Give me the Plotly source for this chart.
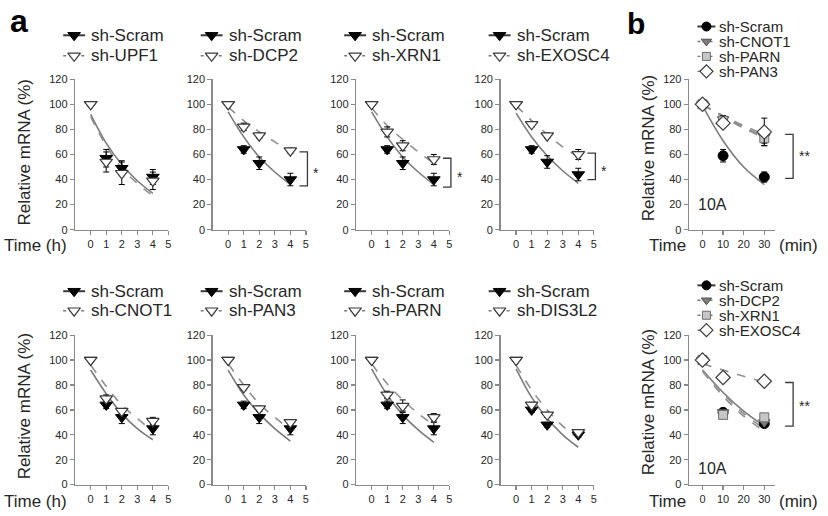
import plotly.graph_objects as go

W, H = 828, 516
FONT = "Liberation Sans, Arial, sans-serif"
TXT = "#262626"
AX = "#8a8a8a"
FIT_SOLID = "#7c7c7c"
FIT_DASH = "#909090"
DARK = "#3a3a3a"

# ---------------- shared axis values ----------------
hours = [0, 1, 2, 4]
fit_hours = [0, 1, 2, 3, 4]
minutes = [0, 10, 30]
fit_minutes = [0, 10, 20, 30]
hour_ticks = [0, 1, 2, 3, 4, 5]
minute_ticks = [0, 10, 20, 30]
pct_ticks = [0, 20, 40, 60, 80, 100, 120]

# ---------------- panel a, upper row ----------------
upf1_scram = [100, 57, 49, 42]
upf1_scram_err = [0, 7, 6, 6]
upf1_kd = [100, 54, 45, 39]
upf1_kd_err = [0, 8, 9, 7]
upf1_scram_fit = [92, 69, 52, 39, 29]
upf1_kd_fit = [90, 67, 49, 37, 27]

dcp2_scram = [100, 64, 53, 40]
dcp2_scram_err = [0, 3, 5, 5]
dcp2_kd = [100, 82, 75, 63]
dcp2_kd_err = [0, 3, 2, 2]
dcp2_scram_fit = [94, 74, 58, 46, 36]
dcp2_kd_fit = [98, 87, 78, 70, 62]

xrn1_scram = [100, 64, 53, 40]
xrn1_scram_err = [0, 3, 5, 5]
xrn1_kd = [100, 78, 67, 56]
xrn1_kd_err = [0, 4, 4, 4]
xrn1_scram_fit = [94, 74, 58, 46, 36]
xrn1_kd_fit = [97, 83, 72, 62, 53]

exosc4_scram = [100, 64, 54, 44]
exosc4_scram_err = [0, 3, 5, 5]
exosc4_kd = [100, 84, 75, 60]
exosc4_kd_err = [0, 2, 2, 4]
exosc4_scram_fit = [93, 74, 59, 47, 37]
exosc4_kd_fit = [99, 87, 76, 66, 58]

# ---------------- panel a, lower row ----------------
cnot1_scram = [100, 64, 54, 45]
cnot1_scram_err = [0, 3, 5, 5]
cnot1_kd = [100, 69, 59, 51]
cnot1_kd_err = [0, 3, 2, 3]
cnot1_scram_fit = [92, 73, 57, 45, 36]
cnot1_kd_fit = [96, 79, 64, 53, 43]

pan3_scram = [100, 64, 54, 45]
pan3_scram_err = [0, 3, 5, 5]
pan3_kd = [100, 78, 61, 50]
pan3_kd_err = [0, 2, 2, 2]
pan3_scram_fit = [92, 72, 57, 45, 35]
pan3_kd_fit = [97, 80, 65, 54, 44]

parn_scram = [100, 64, 54, 45]
parn_scram_err = [0, 3, 5, 5]
parn_kd = [100, 72, 63, 54]
parn_kd_err = [0, 3, 5, 3]
parn_scram_fit = [93, 72, 56, 44, 34]
parn_kd_fit = [97, 81, 68, 57, 48]

dis3l2_scram = [100, 60, 48, 40]
dis3l2_scram_err = [0, 2, 2, 2]
dis3l2_kd = [100, 64, 56, 42]
dis3l2_kd_err = [0, 2, 2, 2]
dis3l2_scram_fit = [93, 70, 53, 40, 30]
dis3l2_kd_fit = [96, 76, 60, 47, 37]

# ---------------- panel b, upper ----------------
b1_scram = [100, 59, 42]
b1_scram_err = [0, 5, 4]
b1_cnot1 = [100, 88, 74]
b1_cnot1_err = [0, 3, 5]
b1_parn = [100, 87, 73]
b1_parn_err = [0, 3, 6]
b1_pan3 = [100, 85, 78]
b1_pan3_err = [0, 3, 11]
b1_scram_fit = [99, 71, 50, 36]
b1_cnot1_fit = [100, 90, 82, 74]
b1_parn_fit = [100, 90, 81, 73]
b1_pan3_fit = [100, 91, 83, 76]

# ---------------- panel b, lower ----------------
b2_scram = [100, 58, 49]
b2_scram_err = [0, 2, 2]
b2_dcp2 = [100, 58, 50]
b2_dcp2_err = [0, 2, 2]
b2_xrn1 = [100, 56, 54]
b2_xrn1_err = [0, 2, 3]
b2_exosc4 = [100, 86, 83]
b2_exosc4_err = [0, 2, 2]
b2_scram_fit = [92, 74, 59, 47]
b2_dcp2_fit = [91, 71, 55, 43]
b2_xrn1_fit = [92, 73, 57, 45]
b2_exosc4_fit = [97, 92, 87, 82]

# significance brackets: (top, bottom, label, label height)
sig_dcp2 = (62, 35, "*", 48)
sig_xrn1 = (57, 34, "*", 45)
sig_exosc4 = (61, 40, "*", 50)
sig_b1 = (76, 41, "**", 62)
sig_b2 = (82, 47, "**", 66)

# ---------------- styles ----------------
MK = {
    "scram_tri": dict(symbol="triangle-down", size=11, color="black", line=dict(color="black", width=1)),
    "kd_tri": dict(symbol="triangle-down", size=11, color="white", line=dict(color=DARK, width=1.2)),
    "scram_circ": dict(symbol="circle", size=10, color="black", line=dict(color="black", width=1)),
    "grey_tri": dict(symbol="triangle-down", size=10, color="#7d7d7d", line=dict(color="#4e4e4e", width=1)),
    "grey_sq": dict(symbol="square", size=9, color="#c6c6c6", line=dict(color="#6c6c6c", width=1)),
    "white_dia": dict(symbol="diamond", size=11, color="white", line=dict(color=DARK, width=1.2)),
}

# ---------------- layout geometry (pixels) ----------------
A_T0 = [91, 229, 373, 518]
A_UNIT = 15.6
ROWS = [(75, 229), (337, 490)]
B_X = (691.6, 777.4)
B_RANGE = [-6.5, 35]


def a_geom(col, row):
    t0 = A_T0[col]
    return dict(x0=t0 - A_UNIT, x1=t0 + 5 * A_UNIT, xr=[-1, 5], y0=ROWS[row][0], y1=ROWS[row][1])


def b_geom(row):
    return dict(x0=B_X[0], x1=B_X[1], xr=B_RANGE, y0=ROWS[row][0], y1=ROWS[row][1])


panels = [
    dict(g=a_geom(0, 0), kind="a",
         series=[("sh-Scram", upf1_scram, upf1_scram_err, upf1_scram_fit, "scram_tri"),
                 ("sh-UPF1", upf1_kd, upf1_kd_err, upf1_kd_fit, "kd_tri")], sig=None),
    dict(g=a_geom(1, 0), kind="a",
         series=[("sh-Scram", dcp2_scram, dcp2_scram_err, dcp2_scram_fit, "scram_tri"),
                 ("sh-DCP2", dcp2_kd, dcp2_kd_err, dcp2_kd_fit, "kd_tri")], sig=sig_dcp2),
    dict(g=a_geom(2, 0), kind="a",
         series=[("sh-Scram", xrn1_scram, xrn1_scram_err, xrn1_scram_fit, "scram_tri"),
                 ("sh-XRN1", xrn1_kd, xrn1_kd_err, xrn1_kd_fit, "kd_tri")], sig=sig_xrn1),
    dict(g=a_geom(3, 0), kind="a",
         series=[("sh-Scram", exosc4_scram, exosc4_scram_err, exosc4_scram_fit, "scram_tri"),
                 ("sh-EXOSC4", exosc4_kd, exosc4_kd_err, exosc4_kd_fit, "kd_tri")], sig=sig_exosc4),
    dict(g=a_geom(0, 1), kind="a",
         series=[("sh-Scram", cnot1_scram, cnot1_scram_err, cnot1_scram_fit, "scram_tri"),
                 ("sh-CNOT1", cnot1_kd, cnot1_kd_err, cnot1_kd_fit, "kd_tri")], sig=None),
    dict(g=a_geom(1, 1), kind="a",
         series=[("sh-Scram", pan3_scram, pan3_scram_err, pan3_scram_fit, "scram_tri"),
                 ("sh-PAN3", pan3_kd, pan3_kd_err, pan3_kd_fit, "kd_tri")], sig=None),
    dict(g=a_geom(2, 1), kind="a",
         series=[("sh-Scram", parn_scram, parn_scram_err, parn_scram_fit, "scram_tri"),
                 ("sh-PARN", parn_kd, parn_kd_err, parn_kd_fit, "kd_tri")], sig=None),
    dict(g=a_geom(3, 1), kind="a",
         series=[("sh-Scram", dis3l2_scram, dis3l2_scram_err, dis3l2_scram_fit, "scram_tri"),
                 ("sh-DIS3L2", dis3l2_kd, dis3l2_kd_err, dis3l2_kd_fit, "kd_tri")], sig=None),
    dict(g=b_geom(0), kind="b",
         series=[("sh-Scram", b1_scram, b1_scram_err, b1_scram_fit, "scram_circ"),
                 ("sh-CNOT1", b1_cnot1, b1_cnot1_err, b1_cnot1_fit, "grey_tri"),
                 ("sh-PARN", b1_parn, b1_parn_err, b1_parn_fit, "grey_sq"),
                 ("sh-PAN3", b1_pan3, b1_pan3_err, b1_pan3_fit, "white_dia")], sig=sig_b1),
    dict(g=b_geom(1), kind="b",
         series=[("sh-Scram", b2_scram, b2_scram_err, b2_scram_fit, "scram_circ"),
                 ("sh-DCP2", b2_dcp2, b2_dcp2_err, b2_dcp2_fit, "grey_tri"),
                 ("sh-XRN1", b2_xrn1, b2_xrn1_err, b2_xrn1_fit, "grey_sq"),
                 ("sh-EXOSC4", b2_exosc4, b2_exosc4_err, b2_exosc4_fit, "white_dia")], sig=sig_b2),
]


def px_x(p):
    return p / W


def px_y(p):
    return 1 - p / H


def data_px(g, xv, yv):
    xp = g["x0"] + (xv - g["xr"][0]) / (g["xr"][1] - g["xr"][0]) * (g["x1"] - g["x0"])
    yp = g["y1"] - yv / 120.0 * (g["y1"] - g["y0"])
    return xp, yp


fig = go.Figure()
layout = dict(
    width=W, height=H, margin=dict(l=0, r=0, t=0, b=0),
    paper_bgcolor="white", plot_bgcolor="rgba(0,0,0,0)",
    showlegend=False, font=dict(family=FONT, color=TXT),
)
annotations = []
shapes = []

OV = len(panels) + 1  # overlay axis for legend glyphs
ovx, ovy = "x%d" % OV, "y%d" % OV

for i, p in enumerate(panels, start=1):
    s = "" if i == 1 else str(i)
    g = p["g"]
    xa, ya = "x" + s, "y" + s
    is_a = p["kind"] == "a"
    tx = fit_hours if is_a else fit_minutes
    mx = hours if is_a else minutes
    axis_common = dict(showgrid=False, zeroline=False, showline=True, linecolor=AX, linewidth=1.4,
                       ticks="outside", ticklen=4, tickcolor=AX, tickwidth=1.3,
                       tickfont=dict(size=11, color=TXT, family=FONT), fixedrange=True)
    layout["xaxis" + s] = dict(axis_common, domain=[px_x(g["x0"]), px_x(g["x1"])], range=g["xr"],
                               anchor=ya, tickmode="array",
                               tickvals=hour_ticks if is_a else minute_ticks)
    layout["yaxis" + s] = dict(axis_common, domain=[px_y(g["y1"]), px_y(g["y0"])], range=[0, 120],
                               anchor=xa, tickmode="array", tickvals=pct_ticks)
    # fitted curves
    for j, (name, vals, err, fit, mk) in enumerate(p["series"]):
        solid = j == 0
        fig.add_trace(go.Scatter(x=tx, y=fit, mode="lines", xaxis=xa, yaxis=ya, hoverinfo="skip",
                                 line=dict(color=FIT_SOLID if solid else FIT_DASH, width=1.6,
                                           dash="solid" if solid else "dash", shape="spline")))
    # data points
    for j, (name, vals, err, fit, mk) in enumerate(p["series"]):
        fig.add_trace(go.Scatter(x=mx, y=vals, mode="markers", xaxis=xa, yaxis=ya, name=name,
                                 marker=MK[mk], cliponaxis=False,
                                 error_y=dict(type="data", array=err, color="black", thickness=1, width=3)))
    # legend (drawn manually)
    if is_a:
        mxp = g["x0"] - 1
        ys = [ROWS[0][0] - 45, ROWS[0][0] - 24] if g["y0"] == ROWS[0][0] else [ROWS[1][0] - 45, ROWS[1][0] - 25]
        half, txt_off, fsize = 11, 15, 17
    else:
        mxp = 709
        base = 21 if g["y0"] == ROWS[0][0] else 286
        ys = [base + k * 15.3 for k in range(4)]
        half, txt_off, fsize = 9, 11, 15
    for j, (name, vals, err, fit, mk) in enumerate(p["series"]):
        yy = ys[j]
        solid = j == 0
        fig.add_trace(go.Scatter(x=[mxp - half, mxp + half], y=[yy, yy], mode="lines", xaxis=ovx, yaxis=ovy,
                                 hoverinfo="skip",
                                 line=dict(color=DARK if solid else "#7a7a7a", width=2 if solid else 1.4,
                                           dash="solid" if solid else "dot")))
        mkl = dict(MK[mk])
        if not is_a:
            mkl["size"] = mkl["size"] - 1
        fig.add_trace(go.Scatter(x=[mxp], y=[yy], mode="markers", xaxis=ovx, yaxis=ovy, hoverinfo="skip",
                                 marker=mkl, cliponaxis=False))
        annotations.append(dict(x=px_x(mxp + txt_off), y=px_y(yy), xref="paper", yref="paper",
                                text=name, showarrow=False, xanchor="left", yanchor="middle",
                                font=dict(size=fsize, color=TXT, family=FONT)))
    # significance bracket
    if p["sig"]:
        top, bot, lab, ly = p["sig"]
        bx = 5.1 if is_a else 44
        xb, yt = data_px(g, bx, top)
        _, yb = data_px(g, bx, bot)
        tick = 8
        path = "M %f,%f L %f,%f L %f,%f L %f,%f" % (
            px_x(xb - tick), px_y(yt), px_x(xb), px_y(yt), px_x(xb), px_y(yb), px_x(xb - tick), px_y(yb))
        shapes.append(dict(type="path", path=path, xref="paper", yref="paper",
                           line=dict(color=DARK, width=1.3)))
        _, yl = data_px(g, bx, ly)
        annotations.append(dict(x=px_x(xb + 4), y=px_y(yl + 4), xref="paper", yref="paper", text=lab,
                                showarrow=False, xanchor="left", yanchor="middle",
                                font=dict(size=14, color=TXT, family=FONT)))

# overlay axis used for the hand-made legends
layout["xaxis%d" % OV] = dict(domain=[0, 1], range=[0, W], visible=False, fixedrange=True)
layout["yaxis%d" % OV] = dict(domain=[0, 1], range=[H, 0], visible=False, fixedrange=True, anchor=ovx)

# panel letters and axis titles
annotations += [
    dict(x=px_x(8), y=px_y(15), text="<b>a</b>", font=dict(size=32, color="black", family=FONT)),
    dict(x=px_x(627), y=px_y(18), text="<b>b</b>", font=dict(size=30, color="black", family=FONT)),
]
for cy in (150, 410):
    annotations.append(dict(x=px_x(25), y=px_y(cy), text="Relative mRNA (%)", textangle=-90,
                            xanchor="center", yanchor="middle", font=dict(size=17, color=TXT, family=FONT)))
    annotations.append(dict(x=px_x(651), y=px_y(cy - 4), text="Relative mRNA (%)", textangle=-90,
                            xanchor="center", yanchor="middle", font=dict(size=17, color=TXT, family=FONT)))
for ty in (245, 507):
    annotations.append(dict(x=px_x(2), y=px_y(ty), text="Time (h)", xanchor="left", yanchor="middle",
                            font=dict(size=17, color=TXT, family=FONT)))
    annotations.append(dict(x=px_x(690), y=px_y(ty), text="Time", xanchor="right", yanchor="middle",
                            font=dict(size=17, color=TXT, family=FONT)))
    annotations.append(dict(x=px_x(780), y=px_y(ty), text="(min)", xanchor="left", yanchor="middle",
                            font=dict(size=17, color=TXT, family=FONT)))
for ty in (203, 473):
    annotations.append(dict(x=px_x(699), y=px_y(ty), text="10A", xanchor="left", yanchor="middle",
                            font=dict(size=16, color=TXT, family=FONT)))

for a in annotations:
    a.setdefault("xref", "paper")
    a.setdefault("yref", "paper")
    a.setdefault("showarrow", False)
    a.setdefault("xanchor", "left")
    a.setdefault("yanchor", "middle")

layout["annotations"] = annotations
layout["shapes"] = shapes
fig.update_layout(**layout)
fig.write_html("out.html", config={"displayModeBar": False, "staticPlot": True},
               post_script="document.body.style.margin='0';document.body.style.overflow='hidden';")
